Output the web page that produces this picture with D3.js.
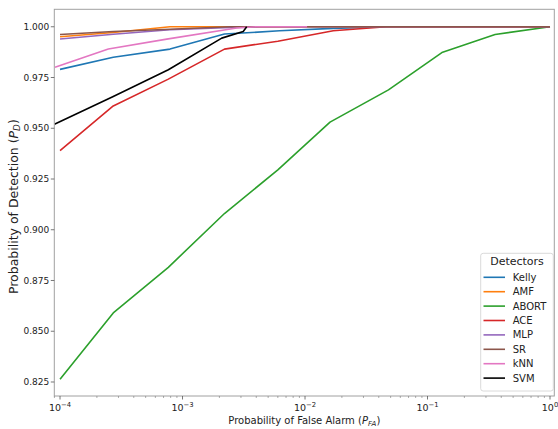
<!DOCTYPE html>
<html><head><meta charset="utf-8">
<script src="https://cdn.jsdelivr.net/npm/d3@7"></script>
<style>body{margin:0;background:#fff}svg{display:block}text{font-family:"DejaVu Sans",sans-serif}</style>
</head><body><div id="c"></div>
<script>
const detectors = ["Kelly","AMF","ABORT","ACE","MLP","SR","kNN","SVM"];
const colors = ["#1f77b4","#ff7f0e","#2ca02c","#d62728","#9467bd","#8c564b","#e377c2","#000000"];
const kellyPFA = [1e-4,2.72e-4,7.9e-4,2.2e-3,6.2e-3,1.7e-2,4.6e-2,1];
const kellyPD  = [0.979,0.985,0.989,0.9964,0.998,0.9992,1.0,1.0];
const amfPFA = [1e-4,2.72e-4,7.9e-4,1];
const amfPD  = [0.9951,0.9972,1.0,1.0];
const abortPFA = [1e-4,2.72e-4,7.66e-4,2.2e-3,6.0e-3,1.6e-2,4.8e-2,0.131,0.356,1];
const abortPD  = [0.8264,0.859,0.8815,0.908,0.9295,0.953,0.9689,0.9873,0.9962,1.0];
const acePFA = [1e-4,2.72e-4,7.66e-4,2.2e-3,6.0e-3,1.7e-2,4.6e-2,1];
const acePD  = [0.939,0.961,0.9742,0.989,0.9929,0.998,1.0,1.0];
const mlpPFA = [1e-4,2.72e-4,7.9e-4,2.2e-3,4.3e-3,1];
const mlpPD  = [0.994,0.9963,0.9985,0.9995,1.0,1.0];
const srPFA = [1e-4,2.72e-4,7.9e-4,2.45e-3,1];
const srPD  = [0.9962,0.9977,0.9988,1.0,1.0];
const knnPFA = [9.1e-5,2.48e-4,7.43e-4,2.77e-3,3.98e-3,1.04e-2];
const knnPD  = [0.980,0.989,0.9939,0.9994,1.0,1.0];
const svmPFA = [9.0e-5,2.72e-4,7.66e-4,2.09e-3,3.13e-3,3.34e-3];
const svmPD  = [0.952,0.9656,0.9788,0.9944,0.9977,1.0];
const xTicks = [1e-4,1e-3,1e-2,1e-1,1];
const xTickExp = ["−4","−3","−2","−1","0"];
const yTicks = [0.825,0.850,0.875,0.900,0.925,0.950,0.975,1.000];

const seriesPFA = [kellyPFA,amfPFA,abortPFA,acePFA,mlpPFA,srPFA,knnPFA,svmPFA];
const seriesPD = [kellyPD,amfPD,abortPD,acePD,mlpPD,srPD,knnPD,svmPD];

const W=558,H=429;
const L=54.3,R=554.3,T=9.3,B=396;
const svg=d3.select("#c").append("svg").attr("width",W).attr("height",H);
const x=d3.scaleLog().domain([8.98e-5,1.084]).range([L,R]);
const y=d3.scaleLinear().domain([0.8181,1.0086]).range([B,T]);

svg.append("clipPath").attr("id","clip").append("rect").attr("x",L).attr("y",T).attr("width",R-L).attr("height",B-T);

const line=d3.line().x(d=>x(d[0])).y(d=>y(d[1]));
const g=svg.append("g").attr("clip-path","url(#clip)");
detectors.forEach((name,i)=>{
  const pts=seriesPFA[i].map((v,j)=>[v,seriesPD[i][j]]);
  g.append("path").datum(pts).attr("d",line).attr("fill","none")
   .attr("stroke",colors[i]).attr("stroke-width",1.6).attr("stroke-linejoin","round");
});

// spines
const spine="#a0a0a0";
svg.append("rect").attr("x",L).attr("y",T).attr("width",R-L).attr("height",B-T)
  .attr("fill","none").attr("stroke",spine).attr("stroke-width",1);

// y ticks
yTicks.forEach(t=>{
  const yy=y(t);
  svg.append("line").attr("x1",L-3.5).attr("x2",L).attr("y1",yy).attr("y2",yy).attr("stroke","#555").attr("stroke-width",0.8);
  svg.append("text").attr("x",L-5).attr("y",yy).attr("dy","0.35em").attr("text-anchor","end")
    .attr("font-size",9).attr("fill","#222").text(t.toFixed(3));
});
// x major ticks
xTicks.forEach((t,i)=>{
  const xx=x(t);
  svg.append("line").attr("x1",xx).attr("x2",xx).attr("y1",B).attr("y2",B+3.5).attr("stroke","#555").attr("stroke-width",0.8);
  const tx=svg.append("text").attr("x",xx).attr("y",B+15).attr("text-anchor","middle").attr("font-size",9.5).attr("fill","#222");
  tx.append("tspan").text("10");
  tx.append("tspan").attr("dy",-4.5).attr("font-size",6.8).text(xTickExp[i]);
});
// minor ticks
for(let e=-5;e<=0;e++){for(let m=2;m<=9;m++){const v=m*Math.pow(10,e);
  if(v>x.domain()[0]&&v<x.domain()[1]){const xx=x(v);
  svg.append("line").attr("x1",xx).attr("x2",xx).attr("y1",B).attr("y2",B+2).attr("stroke","#777").attr("stroke-width",0.6);}}}

// axis labels
const xl=svg.append("text").attr("x",(L+R)/2).attr("y",424).attr("text-anchor","middle").attr("font-size",10).attr("fill","#222");
xl.append("tspan").text("Probability of False Alarm (");
xl.append("tspan").attr("font-style","italic").text("P");
xl.append("tspan").attr("font-style","italic").attr("font-size",7).attr("dy",2).text("FA");
xl.append("tspan").attr("dy",-2).text(")");
const yl=svg.append("text").attr("transform",`translate(17.5,${(T+B)/2+4}) rotate(-90)`).attr("text-anchor","middle").attr("font-size",12.5).attr("fill","#222");
yl.append("tspan").text("Probability of Detection (");
yl.append("tspan").attr("font-style","italic").text("P");
yl.append("tspan").attr("font-style","italic").attr("font-size",8.8).attr("dy",2.5).text("D");
yl.append("tspan").attr("dy",-2.5).text(")");

// legend
const lg=svg.append("g");
lg.append("rect").attr("x",480.7).attr("y",253.3).attr("width",72.6).attr("height",137.7).attr("rx",2.5)
  .attr("fill","#fff").attr("fill-opacity",0.85).attr("stroke","#d0d0d0").attr("stroke-width",0.8);
lg.append("text").attr("x",517).attr("y",265).attr("text-anchor","middle").attr("font-size",11).attr("fill","#222").text("Detectors");
detectors.forEach((name,i)=>{
  const yy=277.3+i*14.4;
  lg.append("line").attr("x1",483.5).attr("x2",505).attr("y1",yy).attr("y2",yy).attr("stroke",colors[i]).attr("stroke-width",1.6);
  lg.append("text").attr("x",512.7).attr("y",yy).attr("dy","0.35em").attr("font-size",10).attr("fill","#222").text(name);
});
</script></body></html>
